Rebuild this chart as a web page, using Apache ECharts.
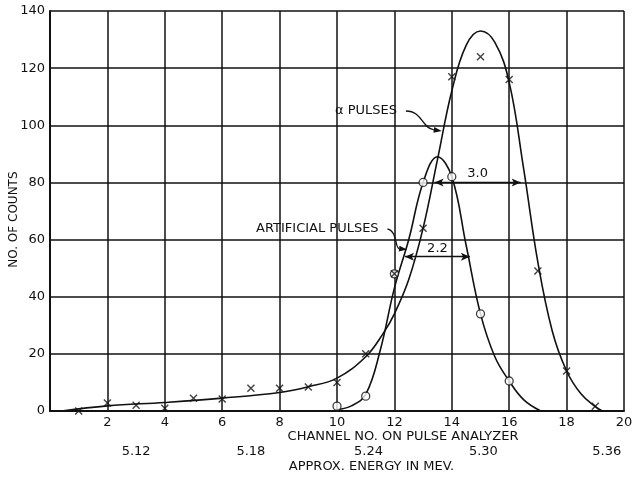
<!DOCTYPE html>
<html>
<head>
<meta charset="utf-8">
<script src="https://cdn.jsdelivr.net/npm/echarts@6/dist/echarts.min.js"></script>
<style>
html, body { margin: 0; padding: 0; background: #fff; }
#main { width: 632px; height: 478px; }
</style>
</head>
<body>
<div id="main"></div>
<script>
// measured points (x markers = alpha pulses, circles = artificial pulses)
var alphaChannels = [1, 2, 3, 4, 5, 6, 7, 8, 9, 10, 11, 12, 13, 14, 15, 16, 17, 18, 19];
var alphaCounts = [0, 2.8, 2, 1, 4.5, 4.2, 8, 8, 8.4, 10, 20, 48, 64, 117, 124, 116, 49, 14, 1.7];
var artChannels = [10, 11, 12, 13, 14, 15, 16];
var artCounts = [1.7, 5.2, 48, 80, 82, 34, 10.5];

// hand-drawn fitted curves
var alphaCurveX = [0.4, 2, 4, 6, 8, 9, 10, 11, 11.6, 12, 12.5, 13, 13.5, 14, 14.5, 15, 15.5, 16, 16.5, 17, 17.5, 18, 18.5, 19, 19.25];
var alphaCurveY = [0, 1.8, 3, 4.5, 6.5, 8.5, 11.5, 19, 27, 34, 46, 64, 88, 112, 128, 133, 129, 115, 85, 52, 28, 14, 6, 1.5, 0];
var artCurveX = [10, 10.5, 11, 11.5, 12, 12.5, 13, 13.5, 14, 14.5, 15, 15.5, 16, 16.5, 17.1];
var artCurveY = [0.5, 1.8, 5.8, 21, 43, 60, 80, 89, 82, 58, 34, 19, 10.5, 4, 0];

// widths at half height
var alphaWidth = [13.4, 16.4, 80, '3.0'];
var artWidth = [12.37, 14.63, 54, '2.2'];

var energyLabels = ['5.12', '5.18', '5.24', '5.30', '5.36'];
var energyChannels = [3, 7, 11.1, 15.1, 19.4];

var font = 'DejaVu Sans';
var ink = '#111';

function pairs(xs, ys) {
    return xs.map(function (x, i) { return [x, ys[i]]; });
}

var xMark = 'path://M0,0L10,10M10,0L0,10';

var myChart = echarts.init(document.getElementById('main'));
var option = {
    backgroundColor: '#fff',
    animation: false,
    grid: {left: 50, right: 8, top: 11, bottom: 67, outerBoundsMode: 'none', containLabel: false},
    xAxis: {
        type: 'value',
        min: 0, max: 20, interval: 2,
        axisLine: {show: true, lineStyle: {color: ink, width: 2}},
        axisTick: {show: false},
        axisLabel: {
            color: ink, fontFamily: font, fontSize: 13, margin: 5,
            formatter: function (v) { return v === 0 ? '' : v; }
        },
        splitLine: {show: true, lineStyle: {color: ink, width: 1.5}}
    },
    yAxis: {
        type: 'value',
        min: 0, max: 140, interval: 20,
        axisLine: {show: true, lineStyle: {color: ink, width: 2}},
        axisTick: {show: false},
        axisLabel: {color: ink, fontFamily: font, fontSize: 13, margin: 5},
        splitLine: {show: true, lineStyle: {color: ink, width: 1.5}}
    },
    series: [
        {
            name: 'alpha curve',
            type: 'line',
            smooth: 0.4,
            symbol: 'none',
            lineStyle: {color: ink, width: 1.6},
            data: pairs(alphaCurveX, alphaCurveY),
            z: 3
        },
        {
            name: 'artificial curve',
            type: 'line',
            smooth: 0.4,
            symbol: 'none',
            lineStyle: {color: ink, width: 1.6},
            data: pairs(artCurveX, artCurveY),
            markLine: {
                silent: true,
                symbol: ['arrow', 'arrow'],
                symbolSize: [6, 9],
                lineStyle: {color: ink, width: 1.4, type: 'solid'},
                label: {
                    show: true, position: 'middle', distance: 2,
                    color: ink, fontFamily: font, fontSize: 13,
                    formatter: function (p) { return p.name; }
                },
                data: [
                    [{name: alphaWidth[3], coord: [alphaWidth[0], alphaWidth[2]]}, {coord: [alphaWidth[1], alphaWidth[2]]}],
                    [{name: artWidth[3], coord: [artWidth[0], artWidth[2]]}, {coord: [artWidth[1], artWidth[2]]}]
                ]
            },
            z: 3
        },
        {
            name: 'artificial pulses',
            type: 'scatter',
            symbol: 'circle',
            symbolSize: 8,
            itemStyle: {color: '#fff', borderColor: ink, borderWidth: 1.3},
            data: pairs(artChannels, artCounts),
            z: 4
        },
        {
            name: 'alpha pulses',
            type: 'scatter',
            symbol: xMark,
            symbolSize: 7,
            itemStyle: {color: 'none', borderColor: ink, borderWidth: 1.4},
            data: pairs(alphaChannels, alphaCounts),
            z: 5
        }
    ]
};
myChart.setOption(option);

function px(x, y) {
    return myChart.convertToPixel({gridIndex: 0}, [x, y]);
}

function leader(pts) {
    var p = pts.map(function (q) { return px(q[0], q[1]); });
    var e = p[3], c = p[2];
    var dx = e[0] - c[0], dy = e[1] - c[1];
    var len = Math.sqrt(dx * dx + dy * dy) || 1;
    dx /= len; dy /= len;
    var bx = e[0] - dx * 8, by = e[1] - dy * 8;
    return [
        {
            type: 'bezierCurve',
            shape: {x1: p[0][0], y1: p[0][1], cpx1: p[1][0], cpy1: p[1][1], cpx2: p[2][0], cpy2: p[2][1], x2: bx, y2: by},
            style: {stroke: ink, lineWidth: 1.3, fill: null}
        },
        {
            type: 'polygon',
            shape: {points: [e, [bx - dy * 3, by + dx * 3], [bx + dy * 3, by - dx * 3]]},
            style: {fill: ink}
        }
    ];
}

var labelFont = '13px "DejaVu Sans"';
var axisY = px(0, 0)[1];
var graphics = [];

// y axis title
var yMid = px(0, 67)[1];
graphics.push({type: 'text', x: 14, y: yMid, rotation: Math.PI / 2, style: {text: 'NO. OF COUNTS', fill: ink, font: '12px "DejaVu Sans"', align: 'center', verticalAlign: 'middle'}});

var a = px(9.93, 105.3);
graphics.push({type: 'text', x: a[0], y: a[1], style: {text: 'α PULSES', fill: ink, font: labelFont, verticalAlign: 'middle'}});
graphics = graphics.concat(leader([[12.4, 105], [12.98, 105], [12.95, 99], [13.65, 98]]));

var b = px(7.18, 63.7);
graphics.push({type: 'text', x: b[0], y: b[1], style: {text: 'ARTIFICIAL PULSES', fill: ink, font: labelFont, verticalAlign: 'middle'}});
graphics = graphics.concat(leader([[11.76, 63.7], [12.1, 63], [12.02, 57], [12.44, 56.5]]));

var c = px(12.3, 0);
graphics.push({type: 'text', x: c[0], y: axisY + 26, style: {text: 'CHANNEL NO. ON PULSE ANALYZER', fill: ink, font: labelFont, align: 'center', verticalAlign: 'middle'}});
energyLabels.forEach(function (lab, i) {
    var q = px(energyChannels[i], 0);
    graphics.push({type: 'text', x: q[0], y: axisY + 41, style: {text: lab, fill: ink, font: labelFont, align: 'center', verticalAlign: 'middle'}});
});
var d = px(11.2, 0);
graphics.push({type: 'text', x: d[0], y: axisY + 56, style: {text: 'APPROX. ENERGY IN MEV.', fill: ink, font: labelFont, align: 'center', verticalAlign: 'middle'}});

myChart.setOption({graphic: graphics});

window.onresize = function () {
    myChart.resize();
};
</script>
</body>
</html>
